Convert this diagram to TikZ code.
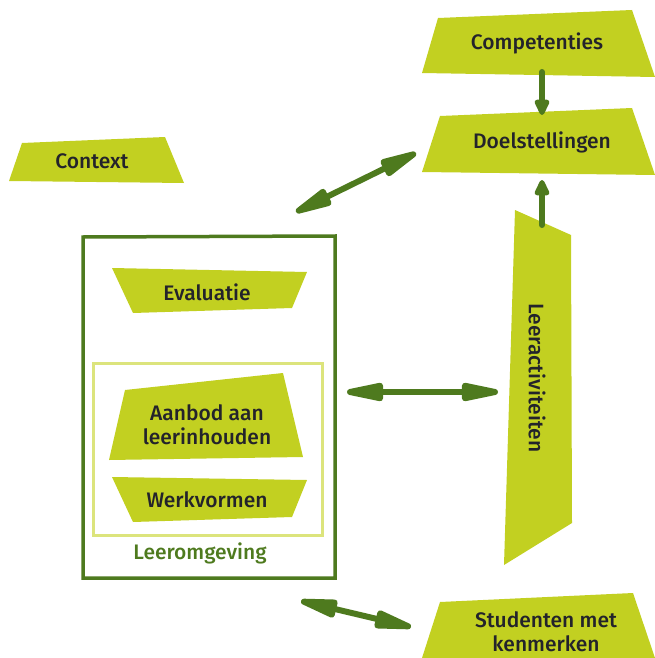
\documentclass[tikz,border=0pt]{standalone}
\usepackage{fontspec}
\setmainfont{Fira Sans}[UprightFont=* Medium]
\usetikzlibrary{arrows.meta}
\definecolor{lime}{HTML}{C2D021}
\definecolor{dgreen}{HTML}{4E7A1E}
\definecolor{lgreen}{HTML}{DCE47C}
\definecolor{txt}{HTML}{23232B}
\tikzset{
  quad/.style={fill=lime, draw=none},
  lbl/.style={text=txt, font=\fontsize{21}{24}\selectfont, align=center, inner sep=0pt},
  conn/.style={draw=dgreen, line width=6pt, line cap=round,
    -{Triangle[length=19pt,width=16pt,round]}},
  dconn/.style={draw=dgreen, line width=6pt,
    {Triangle[length=50pt,width=18pt,round]}-{Triangle[length=50pt,width=18pt,round]}},
}
\begin{document}
\begin{tikzpicture}[x=1pt,y=-1pt]
\useasboundingbox (0,0) rectangle (655,658);
% outer box
\draw[dgreen, line width=3.5pt] (83,237) -- (335,236) -- (335,578) -- (83,578) -- cycle;
% inner box
\draw[lgreen, line width=3pt] (93,363) rectangle (322,535);
\node[text=dgreen, font=\fontsize{21}{24}\selectfont, inner sep=0pt] (leer) at (200,553) {Leeromgeving};
% shapes
\fill[quad] (438,18) -- (632,10) -- (655,77) -- (422,73) -- cycle;
\node[lbl] (comp) at (537,43) {Competenties};
\fill[quad] (440,116) -- (632,108) -- (655,175) -- (422,172) -- cycle;
\node[lbl] (doel) at (542,142) {Doelstellingen};
\fill[quad] (22,143) -- (165,137) -- (184,183) -- (9,181) -- cycle;
\node[lbl] (ctx) at (92,161) {Context};
\fill[quad] (112,268) -- (307,272) -- (292,308) -- (133,313) -- cycle;
\node[lbl] (eval) at (207,292) {Evaluatie};
\fill[quad] (125,390) -- (283,373) -- (303,457) -- (109,460) -- cycle;
\node[lbl] (aanb) at (207,425) {Aanbod aan\\leerinhouden};
\fill[quad] (112,477) -- (307,480) -- (292,517) -- (133,522) -- cycle;
\node[lbl] (werk) at (207,500) {Werkvormen};
\fill[quad] (515,210) -- (571,235) -- (572,523) -- (504,565) -- cycle;
\node[lbl, rotate=-90] (leeract) at (537,378) {Leeractiviteiten};
\fill[quad] (440,602) -- (633,593) -- (655,658) -- (422,658) -- cycle;
\node[lbl] (stud) at (546,632) {Studenten met\\kenmerken};
% connector endpoints
\coordinate (c1) at (542,72);
\coordinate (c2) at (542,115);
\coordinate (c3) at (542,225);
\coordinate (c4) at (542,180);
\coordinate (c5) at (296,212);
\coordinate (c6) at (416,153);
\coordinate (c7) at (347,392);
\coordinate (c8) at (498,392);
\coordinate (c9) at (301,601);
\coordinate (c10) at (411,627);
\draw[conn] (c1) -- (c2);
\draw[conn] (c3) -- (c4);
\draw[dconn] (c5) -- (c6);
\draw[dconn] (c7) -- (c8);
\draw[dconn] (c9) -- (c10);
\end{tikzpicture}
\end{document}
